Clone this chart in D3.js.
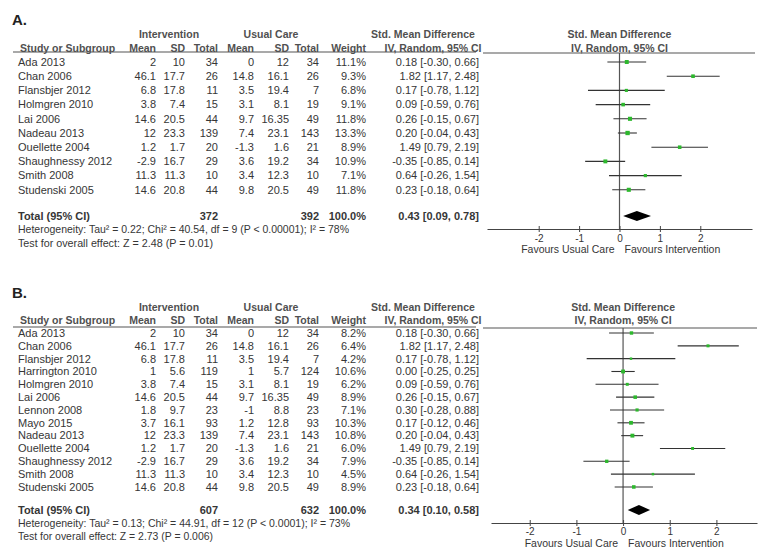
<!DOCTYPE html>
<html><head><meta charset="utf-8">
<script src="https://cdn.jsdelivr.net/npm/d3@7"></script>
<style>
body{margin:0;background:#fff}
svg{display:block}
text{font-family:"Liberation Sans",Arial,sans-serif}
</style>
</head><body>
<svg id="chart" width="771" height="558"></svg>
<script>
// ---------- DATA (panel B order, all 13 studies) ----------
const studyNames = ["Ada 2013","Chan 2006","Flansbjer 2012","Harrington 2010","Holmgren 2010","Lai 2006","Lennon 2008","Mayo 2015","Nadeau 2013","Ouellette 2004","Shaughnessy 2012","Smith 2008","Studenski 2005"];
const intMean  = [2, 46.1, 6.8, 1, 3.8, 14.6, 1.8, 3.7, 12, 1.2, -2.9, 11.3, 14.6];
const intSD    = [10, 17.7, 17.8, 5.6, 7.4, 20.5, 9.7, 16.1, 23.3, 1.7, 16.7, 11.3, 20.8];
const intN     = [34, 26, 11, 119, 15, 44, 23, 93, 139, 20, 29, 10, 44];
const ucMean   = [0, 14.8, 3.5, 1, 3.1, 9.7, -1, 1.2, 7.4, -1.3, 3.6, 3.4, 9.8];
const ucSD     = [12, 16.1, 19.4, 5.7, 8.1, 16.35, 8.8, 12.8, 23.1, 1.6, 19.2, 12.3, 20.5];
const ucN      = [34, 26, 7, 124, 19, 49, 23, 93, 143, 21, 34, 10, 49];
const smd      = [0.18, 1.82, 0.17, 0.00, 0.09, 0.26, 0.30, 0.17, 0.20, 1.49, -0.35, 0.64, 0.23];
const ciLow    = [-0.30, 1.17, -0.78, -0.25, -0.59, -0.15, -0.28, -0.12, -0.04, 0.79, -0.85, -0.26, -0.18];
const ciHigh   = [0.66, 2.48, 1.12, 0.25, 0.76, 0.67, 0.88, 0.46, 0.43, 2.19, 0.14, 1.54, 0.64];

// panel A: studies included and their weights
const studiesA = ["Ada 2013","Chan 2006","Flansbjer 2012","Holmgren 2010","Lai 2006","Nadeau 2013","Ouellette 2004","Shaughnessy 2012","Smith 2008","Studenski 2005"];
const weightsA = [11.1, 9.3, 6.8, 9.1, 11.8, 13.3, 8.9, 10.9, 7.1, 11.8];
// panel B: all studies
const studiesB = studyNames.slice();
const weightsB = [8.2, 6.4, 4.2, 10.6, 6.2, 8.9, 7.1, 10.3, 10.8, 6.0, 7.9, 4.5, 8.9];

// totals per panel [A, B]
const panelLabels   = ["A.", "B."];
const totalIntN     = [372, 607];
const totalUcN      = [392, 632];
const pooledSMD     = [0.43, 0.34];
const pooledLow     = [0.09, 0.10];
const pooledHigh    = [0.78, 0.58];
const heterogeneity = ["Heterogeneity: Tau² = 0.22; Chi² = 40.54, df = 9 (P < 0.00001); I² = 78%",
                       "Heterogeneity: Tau² = 0.13; Chi² = 44.91, df = 12 (P < 0.0001); I² = 73%"];
const overallEffect = ["Test for overall effect: Z = 2.48 (P = 0.01)",
                       "Test for overall effect: Z = 2.73 (P = 0.006)"];
const tickValues    = [-2, -1, 0, 1, 2];
const favoursLeft   = "Favours Usual Care";
const favoursRight  = "Favours Intervention";

// ---------- LAYOUT ----------
const layouts = [
  {titleY:20, h1:34, h2:48, rule:52, row0:62, step:14.2, totalY:216, hetY:229, testY:243,
   axisY:229, tickY:238, favY:249.5, xr:[487,752], xd:[-3.28,3.28], plotRuleEnd:755, hetLen:331, testLen:195},
  {titleY:293, h1:307, h2:320, rule:327, row0:333, step:12.83, totalY:510, hetY:523, testY:536,
   axisY:523, tickY:531.5, favY:543, xr:[491,757], xd:[-2.83,2.87], plotRuleEnd:757, hetLen:332, testLen:195}
];
const col = {name:18, iMean:156, iSD:185, iN:218, cMean:254, cSD:289, cN:319, w:366, ci:479};
const TXT = "#363636", HDR = "#505050", GREEN = "#2db82d";

const svg = d3.select("#chart");
const fmt2 = v => v.toFixed(2);
const ciText = (m,l,h) => `${fmt2(m)} [${fmt2(l)}, ${fmt2(h)}]`;

function txt(g, x, y, s, opt={}) {
  const t = g.append("text").attr("x", x).attr("y", y).attr("dy", "0.35em")
    .attr("font-size", opt.size || 11).attr("fill", opt.fill || TXT)
    .attr("text-anchor", opt.anchor || "start").text(s);
  if (opt.bold) t.attr("font-weight", "bold");
  if (opt.len) t.attr("textLength", opt.len).attr("lengthAdjust", "spacingAndGlyphs");
  return t;
}

[ [studiesA, weightsA], [studiesB, weightsB] ].forEach(([names, weights], p) => {
  const L = layouts[p];
  const g = svg.append("g");
  const rows = names.map((n, i) => {
    const k = studyNames.indexOf(n);
    return {name:n, im:intMean[k], isd:intSD[k], inn:intN[k], cm:ucMean[k], csd:ucSD[k], cn:ucN[k],
            w:weights[i], m:smd[k], lo:ciLow[k], hi:ciHigh[k]};
  });
  const y = d3.scaleLinear().domain([0, 1]).range([L.row0, L.row0 + L.step]);
  const x = d3.scaleLinear().domain(L.xd).range(L.xr);
  const sq = d3.scaleSqrt().domain([0, 15]).range([0, 4.6]);
  const H = 10.5;

  // title
  txt(g, 12, L.titleY, panelLabels[p], {size:15, bold:true, fill:"#222"});
  // headers
  txt(g, 169, L.h1, "Intervention", {size:H, bold:true, fill:HDR, anchor:"middle"});
  txt(g, 271, L.h1, "Usual Care", {size:H, bold:true, fill:HDR, anchor:"middle"});
  txt(g, 423, L.h1, "Std. Mean Difference", {size:H, bold:true, fill:HDR, anchor:"middle"});
  txt(g, 433, L.h2, "IV, Random, 95% CI", {size:H, bold:true, fill:HDR, anchor:"middle"});
  txt(g, x(0), L.h1, "Std. Mean Difference", {size:H, bold:true, fill:HDR, anchor:"middle"});
  txt(g, x(0), L.h2, "IV, Random, 95% CI", {size:H, bold:true, fill:HDR, anchor:"middle"});
  txt(g, 20, L.h2, "Study or Subgroup", {size:H, bold:true, fill:HDR});
  [["Mean",col.iMean],["SD",col.iSD],["Total",col.iN],["Mean",col.cMean],["SD",col.cSD],["Total",col.cN],["Weight",col.w]]
    .forEach(([s, cx]) => txt(g, cx, L.h2, s, {size:H, bold:true, fill:HDR, anchor:"end"}));
  g.append("line").attr("x1", 13).attr("x2", 476).attr("y1", L.rule).attr("y2", L.rule).attr("stroke", "#555").attr("stroke-width", 1.2);
  g.append("line").attr("x1", 483).attr("x2", L.plotRuleEnd).attr("y1", L.rule + 1).attr("y2", L.rule + 1).attr("stroke", "#555").attr("stroke-width", 1.2);

  // study rows
  rows.forEach((r, i) => {
    const yy = y(i);
    txt(g, col.name, yy, r.name);
    txt(g, col.iMean, yy, String(r.im), {anchor:"end"});
    txt(g, col.iSD, yy, String(r.isd), {anchor:"end"});
    txt(g, col.iN, yy, String(r.inn), {anchor:"end"});
    txt(g, col.cMean, yy, String(r.cm), {anchor:"end"});
    txt(g, col.cSD, yy, String(r.csd), {anchor:"end"});
    txt(g, col.cN, yy, String(r.cn), {anchor:"end"});
    txt(g, col.w, yy, r.w.toFixed(1) + "%", {anchor:"end"});
    txt(g, col.ci, yy, ciText(r.m, r.lo, r.hi), {anchor:"end"});
  });

  // total rows
  txt(g, col.name, L.totalY, "Total (95% CI)", {bold:true});
  txt(g, col.iN, L.totalY, String(totalIntN[p]), {bold:true, anchor:"end"});
  txt(g, col.cN, L.totalY, String(totalUcN[p]), {bold:true, anchor:"end"});
  txt(g, col.w, L.totalY, "100.0%", {bold:true, anchor:"end"});
  txt(g, col.ci, L.totalY, ciText(pooledSMD[p], pooledLow[p], pooledHigh[p]), {bold:true, anchor:"end"});
  txt(g, col.name, L.hetY, heterogeneity[p], {size:10.5, len:L.hetLen});
  txt(g, col.name, L.testY, overallEffect[p], {size:10.5, len:L.testLen});

  // zero line
  g.append("line").attr("x1", x(0)).attr("x2", x(0)).attr("y1", L.rule + 1).attr("y2", L.axisY)
    .attr("stroke", "#555").attr("stroke-width", 1.2);

  // CI lines and squares
  rows.forEach((r, i) => {
    const yy = y(i);
    g.append("line").attr("x1", x(r.lo)).attr("x2", x(r.hi)).attr("y1", yy).attr("y2", yy)
      .attr("stroke", "#333").attr("stroke-width", 1.1);
    const s = sq(r.w);
    g.append("rect").attr("x", x(r.m) - s/2).attr("y", yy - s/2).attr("width", s).attr("height", s)
      .attr("fill", GREEN);
  });

  // diamond
  const ty = L.totalY;
  g.append("path")
    .attr("d", `M${x(pooledLow[p])},${ty} L${x(pooledSMD[p])},${ty-5} L${x(pooledHigh[p])},${ty} L${x(pooledSMD[p])},${ty+5} Z`)
    .attr("fill", "#000");

  // axis
  const ax = g.append("g").attr("transform", `translate(0,${L.axisY})`)
    .call(d3.axisBottom(x).tickValues(tickValues).tickFormat(d => String(d)).tickSizeOuter(0).tickSizeInner(3).tickPadding(2));
  ax.select(".domain").attr("stroke", "#444").attr("stroke-width", 1.2);
  ax.selectAll(".tick line").attr("y1", -3).attr("stroke", "#444");
  ax.selectAll(".tick text").attr("font-size", 10).attr("fill", TXT)
    .attr("font-family", '"Liberation Sans",Arial,sans-serif').attr("y", L.tickY - L.axisY).attr("dy", "0.35em");

  txt(g, x(0) - 5, L.favY, favoursLeft, {size:10.5, anchor:"end"});
  txt(g, x(0) + 5, L.favY, favoursRight, {size:10.5});
});
</script>
</body></html>
